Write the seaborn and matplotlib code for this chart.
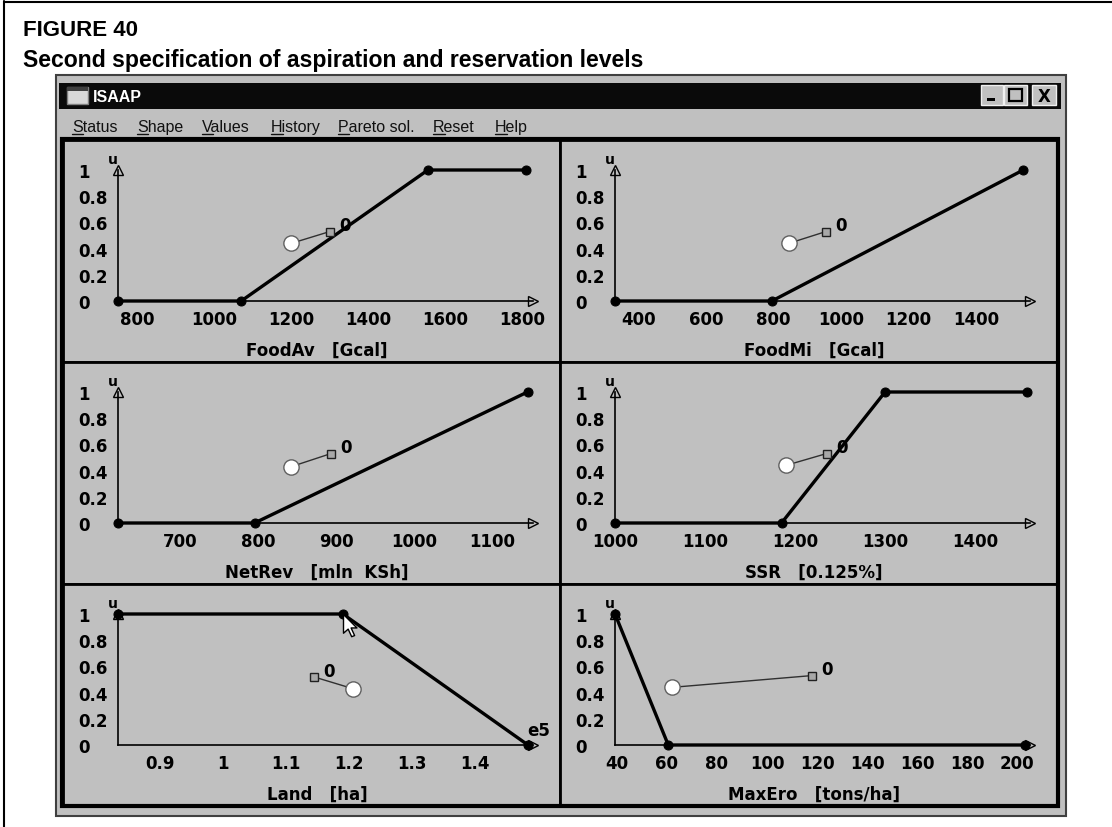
import numpy as np
import pandas as pd
import seaborn as sns
import matplotlib.pyplot as plt
from matplotlib.patches import Rectangle
from matplotlib.lines import Line2D
from matplotlib.path import Path

# ---- data ----
panel_names = ["FoodAv", "FoodMi", "NetRev", "SSR", "Land", "MaxEro"]
panel_units = ["[Gcal]", "[Gcal]", "[mln  KSh]", "[0.125%]", "[ha]", "[tons/ha]"]

# component achievement functions (break points)
foodav_x = [750, 1070, 1555, 1810]
foodav_u = [0, 0, 1, 1]
foodmi_x = [330, 795, 1540]
foodmi_u = [0, 0, 1]
netrev_x = [620, 795, 1145]
netrev_u = [0, 0, 1]
ssr_x = [1000, 1185, 1300, 1458]
ssr_u = [0, 0, 1, 1]
land_x = [0.833, 1.19, 1.484]
land_u = [1, 1, 0]
maxero_x = [39.2, 60.5, 203]
maxero_u = [1, 0, 0]

# current solution (circle) and previous solution "0" (square)
current_x = [1200, 845, 842, 1190, 1.206, 62]
current_u = [0.44, 0.44, 0.43, 0.44, 0.43, 0.44]
previous_x = [1300, 955, 893, 1235, 1.144, 118]
previous_u = [0.53, 0.53, 0.53, 0.53, 0.52, 0.53]

x_ranges = [(750, 1828), (330, 1560), (620, 1152), (1000, 1461), (0.833, 1.492), (39.2, 205.2)]
x_ticks = [
    [800, 1000, 1200, 1400, 1600, 1800],
    [400, 600, 800, 1000, 1200, 1400],
    [700, 800, 900, 1000, 1100],
    [1000, 1100, 1200, 1300, 1400],
    [0.9, 1.0, 1.1, 1.2, 1.3, 1.4],
    [40, 60, 80, 100, 120, 140, 160, 180, 200],
]
u_ticks = [0, 0.2, 0.4, 0.6, 0.8, 1]
u_tick_labels = ["0", "0.2", "0.4", "0.6", "0.8", "1"]
menu_items = ["Status", "Shape", "Values", "History", "Pareto sol.", "Reset", "Help"]

curves = [(foodav_x, foodav_u), (foodmi_x, foodmi_u), (netrev_x, netrev_u),
          (ssr_x, ssr_u), (land_x, land_u), (maxero_x, maxero_u)]

# ---- figure / window chrome ----
sns.set_style("white")
plt.rcParams["font.family"] = ["DejaVu Sans"]
plt.rcParams["text.color"] = "black"

W, H = 1112, 828
GRAY = "#c0c0c0"
fig = plt.figure(figsize=(W / 100, H / 100), dpi=100)
fig.patch.set_facecolor("white")


def fx(px):
    return px / W


def fy(py):
    return 1 - py / H


def box(x0, y0, x1, y1, **kw):
    kw.setdefault("zorder", -5)
    r = Rectangle((fx(x0), fy(y1)), (x1 - x0) / W, (y1 - y0) / H,
                  transform=fig.transFigure, **kw)
    fig.patches.append(r)
    return r


def hline(x0, x1, y, **kw):
    fig.add_artist(Line2D([fx(x0), fx(x1)], [fy(y), fy(y)], **kw))


def vline(x, y0, y1, **kw):
    fig.add_artist(Line2D([fx(x), fx(x)], [fy(y0), fy(y1)], **kw))


# outer frame (left and top edges visible)
vline(4, 2, 828, color="black", lw=1.5)
hline(4, 1112, 2.5, color="black", lw=1.5)

fig.text(fx(23), fy(31), "FIGURE 40", fontsize=16, fontweight="bold",
         family="Liberation Sans", va="center", color="black")
fig.text(fx(23), fy(61), "Second specification of aspiration and reservation levels",
         fontsize=16.6, fontweight="bold", family="Liberation Sans", va="center",
         color="black")

# window
box(56, 76, 1066, 817, facecolor=GRAY, edgecolor="#404040", lw=1.5, zorder=-6)
box(59, 84, 1061, 110, facecolor="#0a0a0a", edgecolor="none")
box(67, 88, 88, 105, facecolor="#d8d8d8", edgecolor="#808080", lw=1)
box(67, 88, 88, 92, facecolor="#404040", edgecolor="none")
fig.text(fx(93), fy(97.5), "ISAAP", color="white", fontsize=11.5, fontweight="bold",
         family="Liberation Sans", va="center")
for bx0, bx1 in [(981, 1003), (1004, 1027), (1032, 1056)]:
    box(bx0, 86, bx1, 106, facecolor=GRAY, edgecolor="#f0f0f0", lw=1, zorder=-4)
box(987, 99, 995, 102, facecolor="black", edgecolor="none", zorder=-3)
box(1009, 90, 1022, 102, facecolor="none", edgecolor="black", lw=1.6, zorder=-3)
fig.text(fx(1044), fy(96.5), "X", fontsize=12, fontweight="bold", ha="center", va="center")

# menu bar with underlined accelerator letters
renderer = fig.canvas.get_renderer()
menu_x = [72, 137, 202, 271, 338, 433, 495]
for mx, item in zip(menu_x, menu_items):
    fig.text(fx(mx), fy(132), item, fontsize=11.5, family="Liberation Sans",
             color="#111111", va="baseline")
    first = fig.text(fx(mx), fy(132), item[0], fontsize=11.5, family="Liberation Sans",
                     va="baseline", alpha=0)
    ext = first.get_window_extent(renderer=renderer)
    hline(mx, mx + ext.width, 134.5, color="#111111", lw=1)

# panels
col_x = [(63, 560), (560, 1057)]
row_y = [(141, 363), (363, 585), (585, 806)]
for r0, r1 in row_y:
    for c0, c1 in col_x:
        box(c0, r0, c1, r1, facecolor=GRAY, edgecolor="black", lw=2, zorder=-4)
box(62, 140, 1058, 807, facecolor="none", edgecolor="black", lw=3, zorder=-3)

# mouse pointer glyph (tip at origin)
cursor = Path([(0, 0), (0, -16), (4, -12.5), (7, -19), (9.5, -18), (6.5, -11.5),
               (11.5, -11.5), (0, 0)],
              [Path.MOVETO] + [Path.LINETO] * 6 + [Path.CLOSEPOLY])

# ---- the six achievement-function charts ----
for i in range(6):
    r, c = divmod(i, 2)
    left = col_x[c][0] + 55
    top = row_y[r][0] + 30
    ax = fig.add_axes([fx(left), fy(top + 131), 415 / W, 131 / H])
    ax.set_facecolor("none")

    cx, cu = curves[i]
    df = pd.DataFrame({"x": cx, "u": cu})
    sns.lineplot(data=df, x="x", y="u", ax=ax, color="black", lw=2.4,
                 marker="o", markersize=6.5, markeredgecolor="black",
                 sort=False, estimator=None, clip_on=False, zorder=4)

    link = pd.DataFrame({"x": [current_x[i], previous_x[i]],
                         "u": [current_u[i], previous_u[i]]})
    sns.lineplot(data=link, x="x", y="u", ax=ax, color="#303030", lw=1,
                 sort=False, estimator=None, zorder=5)
    ax.plot(current_x[i], current_u[i], "o", ms=11, mfc="white", mec="#606060",
            mew=1, zorder=6)
    ax.plot(previous_x[i], previous_u[i], "s", ms=6, mfc="#a8a8a8", mec="#202020",
            mew=1, zorder=6)
    ax.annotate("0", (previous_x[i], previous_u[i]), xytext=(11, 4.5),
                textcoords="offset points", ha="center", va="center",
                fontsize=12, fontweight="bold", zorder=7, color="black")

    ax.set_xlim(*x_ranges[i])
    ax.set_ylim(0, 1)
    ax.set_xticks(x_ticks[i])
    ax.set_xticklabels(["{:g}".format(t) for t in x_ticks[i]])
    ax.set_yticks(u_ticks)
    ax.set_yticklabels(u_tick_labels)
    ax.set_xlabel("")
    ax.set_ylabel("")

    for s in ["top", "right"]:
        ax.spines[s].set_visible(False)
    for s in ["left", "bottom"]:
        ax.spines[s].set_color("black")
        ax.spines[s].set_linewidth(1.2)
        ax.spines[s].set_zorder(3)

    ax.tick_params(axis="x", direction="inout", length=9, width=1.2, pad=2,
                   labelsize=12, colors="black")
    ax.tick_params(axis="y", direction="inout", length=8, width=1.2, pad=24.5,
                   labelsize=12, colors="black")
    for lab in ax.get_xticklabels() + ax.get_yticklabels():
        lab.set_fontweight("bold")
    for lab in ax.get_yticklabels():
        lab.set_horizontalalignment("left")

    # axis arrows
    ax.plot(1, 0, ">", transform=ax.get_yaxis_transform(), clip_on=False,
            ms=7, mfc=GRAY, mec="black", mew=1, zorder=3)
    ax.plot(0, 1, "^", transform=ax.transAxes, clip_on=False,
            ms=7, mfc=GRAY, mec="black", mew=1, zorder=3)
    ax.annotate("u", (0, 1), xycoords="axes fraction", xytext=(-3.5, 8),
                textcoords="offset points", ha="center", va="center",
                fontsize=10, fontweight="bold", color="black")

    ax.text(0.48, -0.375, panel_names[i] + "   " + panel_units[i],
            transform=ax.transAxes, ha="center", va="center",
            fontsize=12, fontweight="bold", color="black")

    if panel_names[i] == "Land":
        ax.annotate("e5", (cx[-1], cu[-1]), xytext=(7.5, 11),
                    textcoords="offset points", ha="center", va="center",
                    fontsize=12, fontweight="bold", color="black")
        ax.plot(cx[1], cu[1], marker=cursor, ms=32, mfc="white", mec="black",
                mew=1, clip_on=False, zorder=8)

fig.savefig("out.png", dpi=100)
